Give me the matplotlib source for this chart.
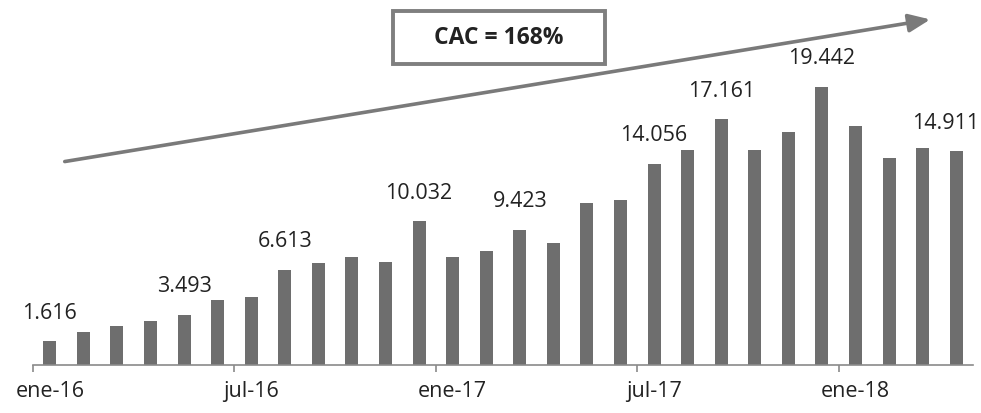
import matplotlib.pyplot as plt
from matplotlib.patches import Rectangle
import numpy as np

plt.rcParams['font.family'] = ['Open Sans', 'DejaVu Sans']

# monthly values, ene-16 .. abr-18
values = [1616, 2260, 2680, 3030, 3493, 4500, 4710, 6613, 7090, 7510, 7180, 10032,
          7550, 7930, 9423, 8510, 11310, 11520, 14056, 15040, 17161, 15040, 16300, 19442,
          16700, 14430, 15180, 14911]
labeled = {0: '1.616', 4: '3.493', 7: '6.613', 11: '10.032', 14: '9.423',
           18: '14.056', 20: '17.161', 23: '19.442', 27: '14.911'}
tick_pos = [0, 6, 12, 18, 24]
tick_labels = ['ene-16', 'jul-16', 'ene-17', 'jul-17', 'ene-18']

W, H = 981, 413
fig = plt.figure(figsize=(W / 100, H / 100), dpi=100)
ax = fig.add_axes([33 / W, 48.5 / H, 940 / W, 1 - 48.5 / H])

x = np.arange(len(values))
ax.bar(x, values, width=0.39, color='#6e6e6e')
ax.set_xlim(-0.5, len(values) - 0.5)
ax.set_ylim(0, 25500)

for i, txt in labeled.items():
    dx = -11 if i == len(values) - 1 else 0
    ax.annotate(txt, (i, values[i]), xytext=(dx, 28), textcoords='offset pixels',
                ha='center', va='center', fontsize=15.5, color='#222222',
                annotation_clip=False)

# axis styling
for s in ['top', 'right', 'left']:
    ax.spines[s].set_visible(False)
ax.spines['bottom'].set_color('#8a8a8a')
ax.spines['bottom'].set_linewidth(1.2)
ax.set_yticks([])
ax.set_xticks([p - 0.5 for p in tick_pos])
ax.set_xticklabels([])
ax.tick_params(axis='x', length=5, color='#8a8a8a', width=1.2)
ax.set_xticks(tick_pos, minor=True)
ax.set_xticklabels(tick_labels, minor=True)
ax.tick_params(axis='x', which='minor', length=0, pad=12, labelsize=15.5,
               labelcolor='#222222')

# growth arrow
ax.annotate('', xy=(933, H - 19), xytext=(62, H - 162),
            xycoords='figure pixels', textcoords='figure pixels',
            arrowprops=dict(arrowstyle='-|>,head_length=1.3,head_width=0.55',
                            color='#7a7a7a', lw=2.6))

# CAC box
box = Rectangle((393 / W, 1 - 64 / H), (605 - 393) / W, 53 / H,
                transform=fig.transFigure, facecolor='white',
                edgecolor='#7f7f7f', lw=2.8)
fig.add_artist(box)
fig.text(499 / W, 1 - 38 / H, 'CAC = 168%', ha='center', va='center',
         fontsize=16.5, fontweight='bold', color='#222222')

fig.savefig('out.png', dpi=100)
